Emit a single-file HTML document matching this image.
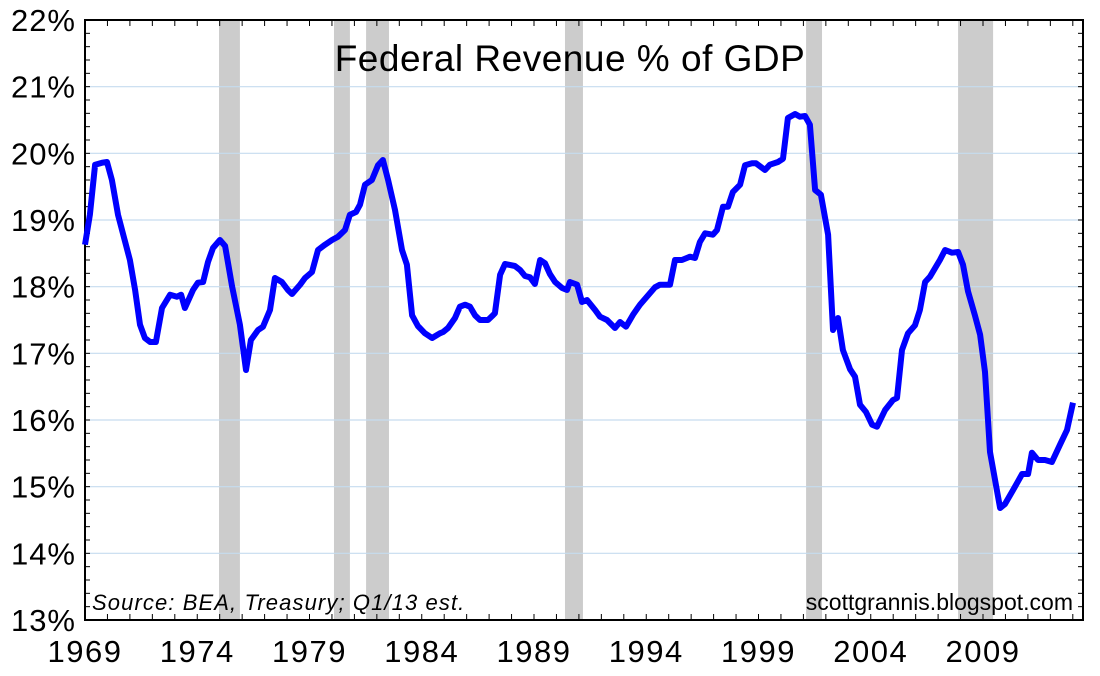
<!DOCTYPE html>
<html><head><meta charset="utf-8"><style>
html,body{margin:0;padding:0;background:#fff;}
svg{display:block;font-family:"Liberation Sans",sans-serif;}
</style></head><body>
<svg id="chart" width="1100" height="676" viewBox="0 0 1100 676" xmlns="http://www.w3.org/2000/svg">
<g id="rec"></g>
<g id="grid"></g>
<g id="axes"></g>
<path id="line" fill="none" stroke="#0000ff" stroke-width="6" stroke-linejoin="round"/>
<text x="570" y="71" text-anchor="middle" font-size="37" letter-spacing="0.5" fill="#000">Federal Revenue % of GDP</text>
<text x="92" y="610" font-size="22" font-style="italic" letter-spacing="1.1" fill="#000">Source:  BEA, Treasury; Q1/13 est.</text>
<text x="1073" y="610" text-anchor="end" font-size="23" letter-spacing="0" fill="#000">scottgrannis.blogspot.com</text>
</svg>
<script>
const years=[1969.00,1969.22,1969.45,1969.76,1969.98,1970.20,1970.47,1971.00,1971.23,1971.45,1971.67,1971.90,1972.16,1972.43,1972.79,1973.10,1973.28,1973.45,1973.81,1974.03,1974.26,1974.48,1974.70,1975.01,1975.24,1975.55,1975.90,1976.17,1976.39,1976.71,1976.93,1977.24,1977.46,1977.77,1978.04,1978.22,1978.58,1978.80,1979.11,1979.38,1979.69,1980.00,1980.27,1980.58,1980.80,1981.07,1981.25,1981.47,1981.78,1982.05,1982.27,1982.50,1982.81,1983.12,1983.34,1983.57,1983.83,1984.14,1984.46,1984.81,1984.95,1985.17,1985.48,1985.70,1985.93,1986.15,1986.37,1986.59,1986.95,1987.17,1987.26,1987.49,1987.71,1988.15,1988.38,1988.60,1988.82,1989.04,1989.27,1989.49,1989.71,1989.94,1990.25,1990.47,1990.60,1990.92,1991.14,1991.36,1991.72,1991.94,1992.25,1992.61,1992.83,1993.10,1993.41,1993.72,1994.39,1994.61,1995.06,1995.28,1995.59,1995.95,1996.17,1996.39,1996.62,1996.97,1997.15,1997.42,1997.64,1997.86,1998.18,1998.40,1998.71,1998.89,1999.29,1999.51,1999.87,2000.09,2000.31,2000.63,2000.85,2001.07,2001.29,2001.52,2001.78,2002.10,2002.32,2002.54,2002.76,2003.08,2003.30,2003.52,2003.79,2004.06,2004.28,2004.64,2004.99,2005.17,2005.39,2005.66,2005.97,2006.19,2006.42,2006.64,2007.08,2007.31,2007.62,2007.89,2008.11,2008.33,2008.64,2008.87,2009.09,2009.31,2009.76,2009.98,2010.34,2010.74,2011.01,2011.18,2011.45,2011.76,2012.07,2012.43,2012.74,2013.01];
const values=[18.63,19.08,19.83,19.86,19.87,19.6,19.08,18.4,17.95,17.43,17.23,17.17,17.17,17.68,17.88,17.85,17.88,17.68,17.95,18.06,18.07,18.37,18.58,18.7,18.61,18.01,17.43,16.75,17.2,17.35,17.4,17.65,18.13,18.07,17.95,17.89,18.03,18.13,18.22,18.55,18.63,18.7,18.75,18.85,19.08,19.12,19.23,19.53,19.6,19.82,19.9,19.6,19.15,18.55,18.33,17.57,17.41,17.3,17.23,17.3,17.32,17.38,17.53,17.7,17.73,17.7,17.57,17.5,17.5,17.57,17.6,18.18,18.34,18.31,18.25,18.16,18.14,18.04,18.4,18.35,18.19,18.07,17.98,17.95,18.07,18.03,17.77,17.8,17.65,17.55,17.5,17.38,17.47,17.4,17.58,17.73,17.99,18.03,18.03,18.4,18.4,18.45,18.43,18.67,18.8,18.78,18.85,19.2,19.2,19.42,19.53,19.82,19.85,19.85,19.75,19.83,19.87,19.92,20.53,20.59,20.55,20.56,20.43,19.45,19.38,18.78,17.35,17.53,17.05,16.76,16.65,16.23,16.12,15.93,15.9,16.15,16.3,16.33,17.05,17.3,17.42,17.65,18.07,18.15,18.4,18.55,18.51,18.52,18.33,17.93,17.57,17.28,16.72,15.52,14.68,14.74,14.95,15.19,15.19,15.51,15.4,15.4,15.37,15.63,15.85,16.26];
const recStart=[1974.97,1980.09,1981.52,1990.38,2001.12,2007.89];
const recEnd=[1975.90,1980.80,1982.54,1991.18,2001.83,2009.45];
const yTicks=[13,14,15,16,17,18,19,20,21,22];
const xTicks=[1969,1974,1979,1984,1989,1994,1999,2004,2009];

const L=85,R=1083,T=20,B=620,X0=1969,X1=1969+(R-L)/22.45;
const sx=v=>L+(v-X0)/(X1-X0)*(R-L);
const sy=v=>B-(v-13)/9*(B-T);
const NS="http://www.w3.org/2000/svg";
function mk(tag,attrs,parent){const e=document.createElementNS(NS,tag);for(const k in attrs)e.setAttribute(k,attrs[k]);parent.appendChild(e);return e;}
const rec=document.getElementById('rec'),grid=document.getElementById('grid'),axes=document.getElementById('axes');
recStart.forEach((s,i)=>{
  const r=mk('rect',{x:sx(s),y:T,width:sx(recEnd[i])-sx(s),height:B-T,fill:'#cccccc'},rec);
  
  
});
yTicks.forEach(v=>{
  if(v>13&&v<22){const g=mk('line',{x1:L,x2:R,y1:sy(v),y2:sy(v),stroke:'#c6dcef','stroke-width':1.2},grid);
  
  }
  const t=mk('text',{x:76,y:sy(v)+11,'text-anchor':'end','font-size':31,'letter-spacing':1,fill:'#000'},axes);
  t.textContent=v+'%';
  
  
});
for(let v=13;v<=22.001;v+=0.2){
  const y=sy(v);
  mk('line',{x1:L,x2:L+5,y1:y,y2:y,stroke:'#000','stroke-width':1},axes);
  mk('line',{x1:R-5,x2:R,y1:y,y2:y,stroke:'#000','stroke-width':1},axes);
}
for(let yr=1969;yr<=2013;yr++){
  const x=sx(yr);
  mk('line',{x1:x,x2:x,y1:B-6,y2:B,stroke:'#000','stroke-width':1},axes);
  mk('line',{x1:x,x2:x,y1:T,y2:T+6,stroke:'#000','stroke-width':1},axes);
}
xTicks.forEach(v=>{
  const t=mk('text',{x:sx(v),y:662,'text-anchor':'middle','font-size':31,'letter-spacing':1.5,fill:'#000'},axes);
  t.textContent=v;
  
  
});
const fr=mk('rect',{x:L,y:T,width:R-L,height:B-T,fill:'none',stroke:'#000','stroke-width':2},axes);


document.getElementById('line').setAttribute('d',years.map((y,i)=>(i?'L':'M')+sx(y).toFixed(1)+' '+sy(values[i]).toFixed(1)).join(' '));
</script>
</body></html>
